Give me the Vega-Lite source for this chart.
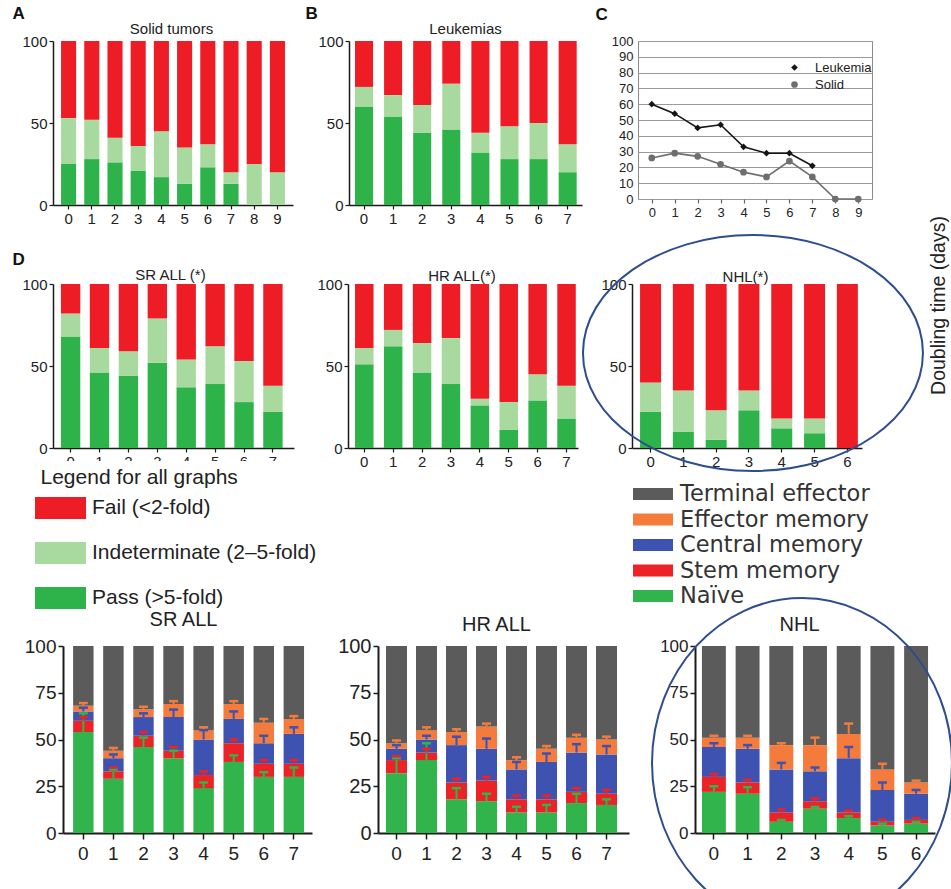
{
"$schema": "https://vega.github.io/schema/vega-lite/v6.json",
"background": "white",
"padding": {"left": 12, "top": 4, "right": 0, "bottom": 0},
"config": {
  "view": {"stroke": null},
  "font": "Liberation Sans",
  "axis": {"domainColor": "#1a1a1a", "tickColor": "#1a1a1a", "labelColor": "#222", "domainWidth": 1.5, "tickWidth": 1.2, "grid": false, "titleFontWeight": "bold", "titleFontSize": 17, "titleColor": "#111", "labelFont": "Liberation Sans", "titleFont": "Liberation Sans"},
  "legend": {"labelLimit": 400, "titleLimit": 400}
},
"datasets": {
  "a": [
    {"d":"0","o":"Pass","v":25},{"d":"0","o":"Indeterminate","v":28},{"d":"0","o":"Fail","v":47},
    {"d":"1","o":"Pass","v":28},{"d":"1","o":"Indeterminate","v":24},{"d":"1","o":"Fail","v":48},
    {"d":"2","o":"Pass","v":26},{"d":"2","o":"Indeterminate","v":15},{"d":"2","o":"Fail","v":59},
    {"d":"3","o":"Pass","v":21},{"d":"3","o":"Indeterminate","v":15},{"d":"3","o":"Fail","v":64},
    {"d":"4","o":"Pass","v":17},{"d":"4","o":"Indeterminate","v":28},{"d":"4","o":"Fail","v":55},
    {"d":"5","o":"Pass","v":13},{"d":"5","o":"Indeterminate","v":22},{"d":"5","o":"Fail","v":65},
    {"d":"6","o":"Pass","v":23},{"d":"6","o":"Indeterminate","v":14},{"d":"6","o":"Fail","v":63},
    {"d":"7","o":"Pass","v":13},{"d":"7","o":"Indeterminate","v":7},{"d":"7","o":"Fail","v":80},
    {"d":"8","o":"Pass","v":0},{"d":"8","o":"Indeterminate","v":25},{"d":"8","o":"Fail","v":75},
    {"d":"9","o":"Pass","v":0},{"d":"9","o":"Indeterminate","v":20},{"d":"9","o":"Fail","v":80}
  ],
  "b": [
    {"d":"0","o":"Pass","v":60},{"d":"0","o":"Indeterminate","v":12},{"d":"0","o":"Fail","v":28},
    {"d":"1","o":"Pass","v":54},{"d":"1","o":"Indeterminate","v":13},{"d":"1","o":"Fail","v":33},
    {"d":"2","o":"Pass","v":44},{"d":"2","o":"Indeterminate","v":17},{"d":"2","o":"Fail","v":39},
    {"d":"3","o":"Pass","v":46},{"d":"3","o":"Indeterminate","v":28},{"d":"3","o":"Fail","v":26},
    {"d":"4","o":"Pass","v":32},{"d":"4","o":"Indeterminate","v":12},{"d":"4","o":"Fail","v":56},
    {"d":"5","o":"Pass","v":28},{"d":"5","o":"Indeterminate","v":20},{"d":"5","o":"Fail","v":52},
    {"d":"6","o":"Pass","v":28},{"d":"6","o":"Indeterminate","v":22},{"d":"6","o":"Fail","v":50},
    {"d":"7","o":"Pass","v":20},{"d":"7","o":"Indeterminate","v":17},{"d":"7","o":"Fail","v":63}
  ],
  "srs": [
    {"d":"0","o":"Pass","v":68},{"d":"0","o":"Indeterminate","v":14},{"d":"0","o":"Fail","v":18},
    {"d":"1","o":"Pass","v":46},{"d":"1","o":"Indeterminate","v":15},{"d":"1","o":"Fail","v":39},
    {"d":"2","o":"Pass","v":44},{"d":"2","o":"Indeterminate","v":15},{"d":"2","o":"Fail","v":41},
    {"d":"3","o":"Pass","v":52},{"d":"3","o":"Indeterminate","v":27},{"d":"3","o":"Fail","v":21},
    {"d":"4","o":"Pass","v":37},{"d":"4","o":"Indeterminate","v":17},{"d":"4","o":"Fail","v":46},
    {"d":"5","o":"Pass","v":39},{"d":"5","o":"Indeterminate","v":23},{"d":"5","o":"Fail","v":38},
    {"d":"6","o":"Pass","v":28},{"d":"6","o":"Indeterminate","v":25},{"d":"6","o":"Fail","v":47},
    {"d":"7","o":"Pass","v":22},{"d":"7","o":"Indeterminate","v":16},{"d":"7","o":"Fail","v":62}
  ],
  "hrs": [
    {"d":"0","o":"Pass","v":51},{"d":"0","o":"Indeterminate","v":10},{"d":"0","o":"Fail","v":39},
    {"d":"1","o":"Pass","v":62},{"d":"1","o":"Indeterminate","v":10},{"d":"1","o":"Fail","v":28},
    {"d":"2","o":"Pass","v":46},{"d":"2","o":"Indeterminate","v":18},{"d":"2","o":"Fail","v":36},
    {"d":"3","o":"Pass","v":39},{"d":"3","o":"Indeterminate","v":28},{"d":"3","o":"Fail","v":33},
    {"d":"4","o":"Pass","v":26},{"d":"4","o":"Indeterminate","v":4},{"d":"4","o":"Fail","v":70},
    {"d":"5","o":"Pass","v":11},{"d":"5","o":"Indeterminate","v":17},{"d":"5","o":"Fail","v":72},
    {"d":"6","o":"Pass","v":29},{"d":"6","o":"Indeterminate","v":16},{"d":"6","o":"Fail","v":55},
    {"d":"7","o":"Pass","v":18},{"d":"7","o":"Indeterminate","v":20},{"d":"7","o":"Fail","v":62}
  ],
  "nhls": [
    {"d":"0","o":"Pass","v":22},{"d":"0","o":"Indeterminate","v":18},{"d":"0","o":"Fail","v":60},
    {"d":"1","o":"Pass","v":10},{"d":"1","o":"Indeterminate","v":25},{"d":"1","o":"Fail","v":65},
    {"d":"2","o":"Pass","v":5},{"d":"2","o":"Indeterminate","v":18},{"d":"2","o":"Fail","v":77},
    {"d":"3","o":"Pass","v":23},{"d":"3","o":"Indeterminate","v":12},{"d":"3","o":"Fail","v":65},
    {"d":"4","o":"Pass","v":12},{"d":"4","o":"Indeterminate","v":6},{"d":"4","o":"Fail","v":82},
    {"d":"5","o":"Pass","v":9},{"d":"5","o":"Indeterminate","v":9},{"d":"5","o":"Fail","v":82},
    {"d":"6","o":"Pass","v":0},{"d":"6","o":"Indeterminate","v":0},{"d":"6","o":"Fail","v":100}
  ],
  "dbl": [
    {"d":"0","s":"Leukemia","t":60},{"d":"1","s":"Leukemia","t":54},{"d":"2","s":"Leukemia","t":45},{"d":"3","s":"Leukemia","t":47},
    {"d":"4","s":"Leukemia","t":33},{"d":"5","s":"Leukemia","t":29},{"d":"6","s":"Leukemia","t":29},{"d":"7","s":"Leukemia","t":21},
    {"d":"0","s":"Solid","t":26},{"d":"1","s":"Solid","t":29},{"d":"2","s":"Solid","t":27},{"d":"3","s":"Solid","t":22},
    {"d":"4","s":"Solid","t":17},{"d":"5","s":"Solid","t":14},{"d":"6","s":"Solid","t":24},{"d":"7","s":"Solid","t":14},
    {"d":"8","s":"Solid","t":0},{"d":"9","s":"Solid","t":0}
  ],
  "sr": [
    {"d":"0","s":"Naïve","k":1,"v":54,"e":10},{"d":"0","s":"Stem memory","k":2,"v":6,"e":2},{"d":"0","s":"Central memory","k":3,"v":5,"e":2},{"d":"0","s":"Effector memory","k":4,"v":3,"e":1.5},{"d":"0","s":"Terminal effector","k":5,"v":32,"e":0},
    {"d":"1","s":"Naïve","k":1,"v":29,"e":5},{"d":"1","s":"Stem memory","k":2,"v":4,"e":2},{"d":"1","s":"Central memory","k":3,"v":7,"e":2},{"d":"1","s":"Effector memory","k":4,"v":4,"e":1.5},{"d":"1","s":"Terminal effector","k":5,"v":56,"e":0},
    {"d":"2","s":"Naïve","k":1,"v":46,"e":5},{"d":"2","s":"Stem memory","k":2,"v":6,"e":2},{"d":"2","s":"Central memory","k":3,"v":10,"e":2},{"d":"2","s":"Effector memory","k":4,"v":4,"e":1.5},{"d":"2","s":"Terminal effector","k":5,"v":34,"e":0},
    {"d":"3","s":"Naïve","k":1,"v":40,"e":4},{"d":"3","s":"Stem memory","k":2,"v":4,"e":2},{"d":"3","s":"Central memory","k":3,"v":18,"e":4},{"d":"3","s":"Effector memory","k":4,"v":7,"e":1.5},{"d":"3","s":"Terminal effector","k":5,"v":31,"e":0},
    {"d":"4","s":"Naïve","k":1,"v":24,"e":3},{"d":"4","s":"Stem memory","k":2,"v":7,"e":2},{"d":"4","s":"Central memory","k":3,"v":19,"e":5},{"d":"4","s":"Effector memory","k":4,"v":5,"e":1.5},{"d":"4","s":"Terminal effector","k":5,"v":45,"e":0},
    {"d":"5","s":"Naïve","k":1,"v":38,"e":3.5},{"d":"5","s":"Stem memory","k":2,"v":10,"e":2},{"d":"5","s":"Central memory","k":3,"v":13,"e":4},{"d":"5","s":"Effector memory","k":4,"v":8,"e":1.5},{"d":"5","s":"Terminal effector","k":5,"v":31,"e":0},
    {"d":"6","s":"Naïve","k":1,"v":30,"e":2.5},{"d":"6","s":"Stem memory","k":2,"v":7,"e":2},{"d":"6","s":"Central memory","k":3,"v":11,"e":4},{"d":"6","s":"Effector memory","k":4,"v":11,"e":2},{"d":"6","s":"Terminal effector","k":5,"v":41,"e":0},
    {"d":"7","s":"Naïve","k":1,"v":30,"e":5},{"d":"7","s":"Stem memory","k":2,"v":7,"e":2},{"d":"7","s":"Central memory","k":3,"v":16,"e":3.5},{"d":"7","s":"Effector memory","k":4,"v":8,"e":1.5},{"d":"7","s":"Terminal effector","k":5,"v":39,"e":0}
  ],
  "hr": [
    {"d":"0","s":"Naïve","k":1,"v":32,"e":8},{"d":"0","s":"Stem memory","k":2,"v":7,"e":2},{"d":"0","s":"Central memory","k":3,"v":6,"e":2},{"d":"0","s":"Effector memory","k":4,"v":3,"e":1.5},{"d":"0","s":"Terminal effector","k":5,"v":52,"e":0},
    {"d":"1","s":"Naïve","k":1,"v":39,"e":9},{"d":"1","s":"Stem memory","k":2,"v":4,"e":2},{"d":"1","s":"Central memory","k":3,"v":7,"e":2},{"d":"1","s":"Effector memory","k":4,"v":5,"e":1.5},{"d":"1","s":"Terminal effector","k":5,"v":45,"e":0},
    {"d":"2","s":"Naïve","k":1,"v":18,"e":6},{"d":"2","s":"Stem memory","k":2,"v":9,"e":2},{"d":"2","s":"Central memory","k":3,"v":20,"e":4.5},{"d":"2","s":"Effector memory","k":4,"v":7,"e":1.5},{"d":"2","s":"Terminal effector","k":5,"v":46,"e":0},
    {"d":"3","s":"Naïve","k":1,"v":17,"e":4},{"d":"3","s":"Stem memory","k":2,"v":11,"e":2},{"d":"3","s":"Central memory","k":3,"v":17,"e":5.5},{"d":"3","s":"Effector memory","k":4,"v":12,"e":1.5},{"d":"3","s":"Terminal effector","k":5,"v":43,"e":0},
    {"d":"4","s":"Naïve","k":1,"v":11,"e":3},{"d":"4","s":"Stem memory","k":2,"v":7,"e":2},{"d":"4","s":"Central memory","k":3,"v":16,"e":4},{"d":"4","s":"Effector memory","k":4,"v":5,"e":1.5},{"d":"4","s":"Terminal effector","k":5,"v":61,"e":0},
    {"d":"5","s":"Naïve","k":1,"v":11,"e":4},{"d":"5","s":"Stem memory","k":2,"v":7,"e":2},{"d":"5","s":"Central memory","k":3,"v":20,"e":4.5},{"d":"5","s":"Effector memory","k":4,"v":7,"e":1.5},{"d":"5","s":"Terminal effector","k":5,"v":55,"e":0},
    {"d":"6","s":"Naïve","k":1,"v":16,"e":5},{"d":"6","s":"Stem memory","k":2,"v":6,"e":2},{"d":"6","s":"Central memory","k":3,"v":21,"e":4.5},{"d":"6","s":"Effector memory","k":4,"v":8,"e":1.5},{"d":"6","s":"Terminal effector","k":5,"v":49,"e":0},
    {"d":"7","s":"Naïve","k":1,"v":15,"e":3},{"d":"7","s":"Stem memory","k":2,"v":6,"e":2},{"d":"7","s":"Central memory","k":3,"v":21,"e":4.5},{"d":"7","s":"Effector memory","k":4,"v":8,"e":1.5},{"d":"7","s":"Terminal effector","k":5,"v":50,"e":0}
  ],
  "nhl": [
    {"d":"0","s":"Naïve","k":1,"v":22,"e":3},{"d":"0","s":"Stem memory","k":2,"v":8,"e":1.5},{"d":"0","s":"Central memory","k":3,"v":16,"e":2},{"d":"0","s":"Effector memory","k":4,"v":5,"e":1},{"d":"0","s":"Terminal effector","k":5,"v":49,"e":0},
    {"d":"1","s":"Naïve","k":1,"v":21,"e":3.5},{"d":"1","s":"Stem memory","k":2,"v":6,"e":1.5},{"d":"1","s":"Central memory","k":3,"v":18,"e":2},{"d":"1","s":"Effector memory","k":4,"v":6,"e":1},{"d":"1","s":"Terminal effector","k":5,"v":49,"e":0},
    {"d":"2","s":"Naïve","k":1,"v":6,"e":1},{"d":"2","s":"Stem memory","k":2,"v":5,"e":1.5},{"d":"2","s":"Central memory","k":3,"v":23,"e":3.5},{"d":"2","s":"Effector memory","k":4,"v":13,"e":1},{"d":"2","s":"Terminal effector","k":5,"v":53,"e":0},
    {"d":"3","s":"Naïve","k":1,"v":13,"e":1},{"d":"3","s":"Stem memory","k":2,"v":4,"e":1.5},{"d":"3","s":"Central memory","k":3,"v":16,"e":2},{"d":"3","s":"Effector memory","k":4,"v":14,"e":4},{"d":"3","s":"Terminal effector","k":5,"v":53,"e":0},
    {"d":"4","s":"Naïve","k":1,"v":8,"e":1},{"d":"4","s":"Stem memory","k":2,"v":3,"e":1},{"d":"4","s":"Central memory","k":3,"v":29,"e":6},{"d":"4","s":"Effector memory","k":4,"v":13,"e":5.5},{"d":"4","s":"Terminal effector","k":5,"v":47,"e":0},
    {"d":"5","s":"Naïve","k":1,"v":4,"e":1},{"d":"5","s":"Stem memory","k":2,"v":2,"e":1},{"d":"5","s":"Central memory","k":3,"v":17,"e":4},{"d":"5","s":"Effector memory","k":4,"v":11,"e":3},{"d":"5","s":"Terminal effector","k":5,"v":66,"e":0},
    {"d":"6","s":"Naïve","k":1,"v":5,"e":1},{"d":"6","s":"Stem memory","k":2,"v":2,"e":1},{"d":"6","s":"Central memory","k":3,"v":14,"e":2},{"d":"6","s":"Effector memory","k":4,"v":6,"e":1},{"d":"6","s":"Terminal effector","k":5,"v":73,"e":0}
  ]
},
"spacing": -11,
"resolve": {"scale": {"color": "independent", "shape": "independent"}, "legend": {"color": "independent", "shape": "independent"}},
"vconcat": [
  {
    "spacing": 56,
    "bounds": "flush",
    "resolve": {"scale": {"color": "independent", "shape": "independent"}, "legend": {"color": "independent", "shape": "independent"}},
    "hconcat": [
      {
        "width": 240, "height": 164,
        "data": {"name": "a"},
        "mark": {"type": "bar"},
        "encoding": {
          "x": {"field": "d", "type": "ordinal", "scale": {"paddingInner": 0.35, "paddingOuter": 0.347, "align": 0.5}, "axis": {"title": "Solid tumors", "titleX": 118, "titleY": -172, "titleAlign": "center", "titleBaseline": "alphabetic", "titleAngle": 0, "titleFontWeight": "normal", "titleFontSize": 15, "titleColor": "#222", "labelAngle": 0, "labelFontSize": 15, "tickSize": 4, "labelPadding": 2}},
          "y": {"field": "v", "type": "quantitative", "scale": {"domain": [0, 100]}, "axis": {"values": [0, 50, 100], "labelFontSize": 15, "tickSize": 4, "labelPadding": 2, "title": "A", "titleAngle": 0, "titleAlign": "left", "titleBaseline": "alphabetic", "titleX": -41, "titleY": -23}},
          "color": {"field": "o", "type": "nominal", "scale": {"domain": ["Fail", "Indeterminate", "Pass"], "range": ["#ee1c25", "#a8d99e", "#2db34a"]}, "legend": null},
          "order": {"field": "o", "sort": "descending"}
        }
      },
      {
        "width": 233, "height": 164,
        "data": {"name": "b"},
        "mark": {"type": "bar"},
        "encoding": {
          "x": {"field": "d", "type": "ordinal", "scale": {"paddingInner": 0.38, "paddingOuter": 0.194, "align": 0.53}, "axis": {"title": "Leukemias", "titleX": 116, "titleY": -172, "titleAlign": "center", "titleBaseline": "alphabetic", "titleAngle": 0, "titleFontWeight": "normal", "titleFontSize": 15, "titleColor": "#222", "labelAngle": 0, "labelFontSize": 15, "tickSize": 4, "labelPadding": 2}},
          "y": {"field": "v", "type": "quantitative", "scale": {"domain": [0, 100]}, "axis": {"values": [0, 50, 100], "labelFontSize": 15, "tickSize": 4, "labelPadding": 2, "title": "B", "titleAngle": 0, "titleAlign": "left", "titleBaseline": "alphabetic", "titleX": -44, "titleY": -23}},
          "color": {"field": "o", "type": "nominal", "scale": {"domain": ["Fail", "Indeterminate", "Pass"], "range": ["#ee1c25", "#a8d99e", "#2db34a"]}, "legend": null},
          "order": {"field": "o", "sort": "descending"}
        }
      },
      {
        "width": 234, "height": 158,
        "view": {"stroke": "#8c8c8c", "strokeWidth": 1},
        "data": {"name": "dbl"},
        "encoding": {
          "x": {"field": "d", "type": "ordinal", "scale": {"type": "point", "padding": 0.6}, "axis": {"title": null, "labelAngle": 0, "labelFontSize": 13, "tickSize": 4, "labelPadding": 3, "domain": false, "tickColor": "#666"}},
          "y": {"field": "t", "type": "quantitative", "scale": {"domain": [0, 100]}, "axis": {"values": [0, 10, 20, 30, 40, 50, 60, 70, 80, 90, 100], "grid": true, "gridColor": "#9a9a9a", "domain": false, "ticks": false, "labelFontSize": 13, "labelPadding": 5, "title": "C", "titleAngle": 0, "titleAlign": "left", "titleBaseline": "alphabetic", "titleX": -43, "titleY": -22}},
          "color": {"field": "s", "type": "nominal", "scale": {"domain": ["Leukemia", "Solid"], "range": ["#151515", "#6e6e6e"]}, "legend": {"orient": "none", "legendX": 150, "legendY": 20, "title": null, "labelFontSize": 13, "labelColor": "#222", "symbolSize": 45, "rowPadding": 3, "labelOffset": 14, "symbolStrokeWidth": 0}}
        },
        "layer": [
          {"mark": {"type": "line", "strokeWidth": 1.6}},
          {
            "mark": {"type": "point", "filled": true, "size": 45, "opacity": 1},
            "encoding": {
              "shape": {"field": "s", "type": "nominal", "scale": {"domain": ["Leukemia", "Solid"], "range": ["diamond", "circle"]}, "legend": {"orient": "none", "legendX": 150, "legendY": 20, "title": null, "labelFontSize": 13, "labelColor": "#222", "symbolSize": 45, "rowPadding": 3, "labelOffset": 14, "symbolStrokeWidth": 0}}
            }
          }
        ]
      }
    ]
  },
  {
    "spacing": -134,
    "resolve": {"scale": {"color": "independent"}, "legend": {"color": "independent"}},
    "vconcat": [
      {
        "spacing": 54,
        "bounds": "flush",
        "hconcat": [
          {
            "width": 241, "height": 164,
            "data": {"name": "srs"},
            "mark": {"type": "bar"},
            "encoding": {
              "x": {"field": "d", "type": "ordinal", "scale": {"paddingInner": 0.33, "paddingOuter": 0.334, "align": 0.41}, "axis": {"title": "SR ALL (*)", "titleX": 117, "titleY": -169, "titleAlign": "center", "titleBaseline": "alphabetic", "titleAngle": 0, "titleFontWeight": "normal", "titleFontSize": 15, "titleColor": "#222", "labelAngle": 0, "labelFontSize": 15, "tickSize": 4, "labelPadding": 2}},
              "y": {"field": "v", "type": "quantitative", "scale": {"domain": [0, 100]}, "axis": {"values": [0, 50, 100], "labelFontSize": 15, "tickSize": 4, "labelPadding": 2, "title": "D", "titleAngle": 0, "titleAlign": "left", "titleBaseline": "alphabetic", "titleX": -41, "titleY": -20}},
              "color": {"field": "o", "type": "nominal", "scale": {"domain": ["Fail", "Indeterminate", "Pass"], "range": ["#ee1c25", "#a8d99e", "#2db34a"]}, "legend": {"orient": "none", "legendX": -18.5, "legendY": 177, "title": "Legend for all graphs", "titleFontSize": 21, "titleFontWeight": "normal", "titleColor": "#222", "titlePadding": 0, "titleFont": "Liberation Sans", "labelFontSize": 21, "labelColor": "#222", "labelFont": "Liberation Sans", "symbolType": "M-1.275,-0.55H1.275V0.55H-1.275Z", "symbolSize": 1600, "symbolStrokeWidth": 0, "symbolOpacity": 1, "rowPadding": 14, "labelOffset": 11.5, "labelLimit": 400, "titleLimit": 400, "fillColor": "white", "padding": 6, "zindex": 1, "labelExpr": "datum.label == 'Fail' ? 'Fail (<2-fold)' : datum.label == 'Pass' ? 'Pass (>5-fold)' : 'Indeterminate (2–5-fold)'"}},
              "order": {"field": "o", "sort": "descending"}
            }
          },
          {
            "width": 230, "height": 164,
            "data": {"name": "hrs"},
            "mark": {"type": "bar"},
            "encoding": {
              "x": {"field": "d", "type": "ordinal", "scale": {"paddingInner": 0.36, "paddingOuter": 0.16, "align": 0.76}, "axis": {"title": "HR ALL(*)", "titleX": 113.5, "titleY": -168, "titleAlign": "center", "titleBaseline": "alphabetic", "titleAngle": 0, "titleFontWeight": "normal", "titleFontSize": 15, "titleColor": "#222", "labelAngle": 0, "labelFontSize": 15, "tickSize": 4, "labelPadding": 2}},
              "y": {"field": "v", "type": "quantitative", "scale": {"domain": [0, 100]}, "axis": {"values": [0, 50, 100], "labelFontSize": 15, "tickSize": 4, "labelPadding": 2, "title": null}},
              "color": {"field": "o", "type": "nominal", "scale": {"domain": ["Fail", "Indeterminate", "Pass"], "range": ["#ee1c25", "#a8d99e", "#2db34a"]}, "legend": null},
              "order": {"field": "o", "sort": "descending"}
            }
          },
          {
            "width": 230, "height": 164,
            "layer": [
              {
                "data": {"name": "nhls"},
                "mark": {"type": "bar"},
                "encoding": {
                  "x": {"field": "d", "type": "ordinal", "scale": {"domain": ["0", "1", "2", "3", "4", "5", "6"], "paddingInner": 0.36, "paddingOuter": 0.186, "align": 0.66}, "axis": {"title": "NHL(*)", "titleX": 113, "titleY": -167, "titleAlign": "center", "titleBaseline": "alphabetic", "titleAngle": 0, "titleFontWeight": "normal", "titleFontSize": 15, "titleColor": "#222", "labelAngle": 0, "labelFontSize": 15, "tickSize": 4, "labelPadding": 2}},
                  "y": {"field": "v", "type": "quantitative", "scale": {"domain": [0, 100]}, "axis": {"values": [0, 50, 100], "labelFontSize": 15, "tickSize": 4, "labelPadding": 2, "title": null}},
                  "color": {"field": "o", "type": "nominal", "scale": {"domain": ["Fail", "Indeterminate", "Pass"], "range": ["#ee1c25", "#a8d99e", "#2db34a"]}, "legend": null},
                  "order": {"field": "o", "sort": "descending"}
                }
              },
              {
                "data": {"values": [{}]},
                "mark": {"type": "point", "shape": "M1,0C1,0.383,0.552,0.694,0,0.694C-0.552,0.694,-1,0.383,-1,0C-1,-0.383,-0.552,-0.694,0,-0.694C0.552,-0.694,1,-0.383,1,0Z", "size": 115600, "filled": false, "stroke": "#2e4d8e", "strokeWidth": 2, "opacity": 1, "xOffset": 4},
                "encoding": {
                  "x": {"datum": "3", "type": "ordinal"},
                  "y": {"datum": 57.9, "type": "quantitative", "scale": {"domain": [0, 100]}, "axis": {"orient": "right", "title": "Doubling time (days)", "labels": false, "ticks": false, "domain": false, "grid": false, "titleAngle": -90, "titleX": 76, "titleY": 21, "titleAlign": "center", "titleBaseline": "middle", "titleFontSize": 19.5, "titleFontWeight": "normal", "titleColor": "#222"}}
                }
              }
            ],
            "resolve": {"scale": {"y": "independent"}}
          }
        ]
      },
      {
        "spacing": 0,
        "bounds": "flush",
        "hconcat": [
          {"width": 10, "height": 1, "data": {"values": [{}]}, "mark": {"type": "text"}, "encoding": {"text": {"value": ""}}},
          {
            "width": 249, "height": 187,
            "data": {"name": "sr"},
            "transform": [{"stack": "v", "groupby": ["d"], "sort": [{"field": "k", "order": "ascending"}], "as": ["y0", "y1"]}, {"calculate": "datum.y1 + datum.e", "as": "ye"}],
            "encoding": {"x": {"field": "d", "type": "ordinal", "scale": {"paddingInner": 0.32, "paddingOuter": 0.3, "align": 0.56}, "axis": {"title": "SR ALL", "titleX": 120, "titleY": -208, "titleAlign": "center", "titleBaseline": "alphabetic", "titleAngle": 0, "titleFontWeight": "normal", "titleFontSize": 20, "titleColor": "#222", "labelAngle": 0, "labelFontSize": 19, "tickSize": 6, "labelPadding": 5, "domainWidth": 2, "tickWidth": 1.5}}},
            "layer": [
              {"mark": {"type": "bar"}, "encoding": {
                "y": {"field": "y0", "type": "quantitative", "scale": {"domain": [0, 100]}, "axis": {"values": [0, 25, 50, 75, 100], "labelFontSize": 19, "tickSize": 5, "labelPadding": 2, "domainWidth": 2, "tickWidth": 1.5, "title": null}},
                "y2": {"field": "y1"},
                "color": {"field": "s", "type": "nominal", "scale": {"domain": ["Terminal effector", "Effector memory", "Central memory", "Stem memory", "Naïve"], "range": ["#5b5b5b", "#f47b3b", "#3d52b1", "#ec2227", "#31b44b"]}, "legend": {"orient": "none", "legendX": 587.5, "legendY": -164.5, "title": null, "labelFontSize": 22.5, "labelFont": "DejaVu Sans", "labelColor": "#333", "symbolType": "M-1.6,-0.48H1.6V0.48H-1.6Z", "symbolSize": 625, "symbolStrokeWidth": 0, "symbolOpacity": 1, "rowPadding": 1.5, "labelOffset": 14.5, "labelLimit": 400, "padding": 0}}
              }},
              {"transform": [{"filter": "datum.e > 0"}], "mark": {"type": "rule", "strokeWidth": 2}, "encoding": {
                "y": {"field": "y1", "type": "quantitative"}, "y2": {"field": "ye"},
                "color": {"field": "s", "type": "nominal", "legend": null}
              }},
              {"transform": [{"filter": "datum.e > 0"}], "mark": {"type": "tick", "thickness": 2.5, "size": 9, "opacity": 1}, "encoding": {
                "y": {"field": "ye", "type": "quantitative"},
                "color": {"field": "s", "type": "nominal", "legend": null}
              }}
            ]
          },
          {"width": 66, "height": 1, "data": {"values": [{}]}, "mark": {"type": "text"}, "encoding": {"text": {"value": ""}}},
          {
            "width": 251, "height": 187,
            "data": {"name": "hr"},
            "transform": [{"stack": "v", "groupby": ["d"], "sort": [{"field": "k", "order": "ascending"}], "as": ["y0", "y1"]}, {"calculate": "datum.y1 + datum.e", "as": "ye"}],
            "encoding": {"x": {"field": "d", "type": "ordinal", "scale": {"paddingInner": 0.3, "paddingOuter": 0.333, "align": 0.4}, "axis": {"title": "HR ALL", "titleX": 118, "titleY": -203, "titleAlign": "center", "titleBaseline": "alphabetic", "titleAngle": 0, "titleFontWeight": "normal", "titleFontSize": 20, "titleColor": "#222", "labelAngle": 0, "labelFontSize": 19, "tickSize": 6, "labelPadding": 5, "domainWidth": 2, "tickWidth": 1.5}}},
            "layer": [
              {"mark": {"type": "bar"}, "encoding": {
                "y": {"field": "y0", "type": "quantitative", "scale": {"domain": [0, 100]}, "axis": {"values": [0, 25, 50, 75, 100], "labelFontSize": 20, "tickSize": 5, "labelPadding": 2, "domainWidth": 2, "tickWidth": 1.5, "title": null}},
                "y2": {"field": "y1"},
                "color": {"field": "s", "type": "nominal", "scale": {"domain": ["Terminal effector", "Effector memory", "Central memory", "Stem memory", "Naïve"], "range": ["#5b5b5b", "#f47b3b", "#3d52b1", "#ec2227", "#31b44b"]}, "legend": null}
              }},
              {"transform": [{"filter": "datum.e > 0"}], "mark": {"type": "rule", "strokeWidth": 2}, "encoding": {
                "y": {"field": "y1", "type": "quantitative"}, "y2": {"field": "ye"},
                "color": {"field": "s", "type": "nominal", "legend": null}
              }},
              {"transform": [{"filter": "datum.e > 0"}], "mark": {"type": "tick", "thickness": 2.5, "size": 9, "opacity": 1}, "encoding": {
                "y": {"field": "ye", "type": "quantitative"},
                "color": {"field": "s", "type": "nominal", "legend": null}
              }}
            ]
          },
          {"width": 66, "height": 1, "data": {"values": [{}]}, "mark": {"type": "text"}, "encoding": {"text": {"value": ""}}},
          {
            "width": 240, "height": 187,
            "layer": [
              {
                "data": {"name": "nhl"},
                "transform": [{"stack": "v", "groupby": ["d"], "sort": [{"field": "k", "order": "ascending"}], "as": ["y0", "y1"]}, {"calculate": "datum.y1 + datum.e", "as": "ye"}],
                "layer": [
                  {"mark": {"type": "bar"}, "encoding": {
                    "x": {"field": "d", "type": "ordinal", "scale": {"domain": ["0", "1", "2", "3", "4", "5", "6"], "paddingInner": 0.29, "paddingOuter": 0.206, "align": 0.5}, "axis": {"title": "NHL", "titleX": 104, "titleY": -203, "titleAlign": "center", "titleBaseline": "alphabetic", "titleAngle": 0, "titleFontWeight": "normal", "titleFontSize": 20, "titleColor": "#222", "labelAngle": 0, "labelFontSize": 19, "tickSize": 6, "labelPadding": 5, "domainWidth": 2, "tickWidth": 1.5}},
                    "y": {"field": "y0", "type": "quantitative", "scale": {"domain": [0, 100]}, "axis": {"values": [0, 25, 50, 75, 100], "labelFontSize": 17, "tickSize": 5, "labelPadding": 2, "domainWidth": 2, "tickWidth": 1.5, "title": null}},
                    "y2": {"field": "y1"},
                    "color": {"field": "s", "type": "nominal", "scale": {"domain": ["Terminal effector", "Effector memory", "Central memory", "Stem memory", "Naïve"], "range": ["#5b5b5b", "#f47b3b", "#3d52b1", "#ec2227", "#31b44b"]}, "legend": null}
                  }},
                  {"transform": [{"filter": "datum.e > 0"}], "mark": {"type": "rule", "strokeWidth": 2}, "encoding": {
                    "x": {"field": "d", "type": "ordinal"},
                    "y": {"field": "y1", "type": "quantitative"}, "y2": {"field": "ye"},
                    "color": {"field": "s", "type": "nominal", "legend": null}
                  }},
                  {"transform": [{"filter": "datum.e > 0"}], "mark": {"type": "tick", "thickness": 2.5, "size": 9, "opacity": 1}, "encoding": {
                    "x": {"field": "d", "type": "ordinal"},
                    "y": {"field": "ye", "type": "quantitative"},
                    "color": {"field": "s", "type": "nominal", "legend": null}
                  }}
                ]
              },
              {
                "data": {"values": [{}]},
                "mark": {"type": "point", "shape": "M1,0C1,0.607,0.552,1.1,0,1.1C-0.552,1.1,-1,0.607,-1,0C-1,-0.607,-0.552,-1.1,0,-1.1C0.552,-1.1,1,-0.607,1,0Z", "size": 90000, "filled": false, "stroke": "#2e4d8e", "strokeWidth": 2, "opacity": 1, "xOffset": -13},
                "encoding": {
                  "x": {"datum": "3", "type": "ordinal"},
                  "y": {"datum": 37.4, "type": "quantitative"}
                }
              }
            ]
          }
        ]
      }
    ]
  }
]
}
